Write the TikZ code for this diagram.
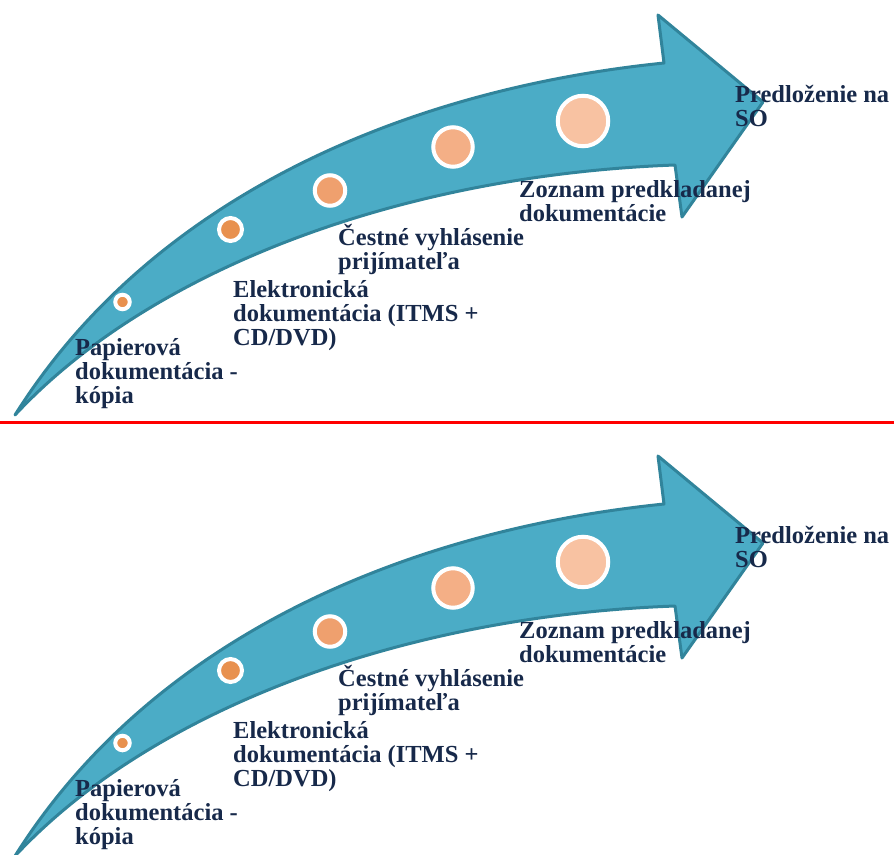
\documentclass[tikz,border=0pt]{standalone}
\usepackage{fontspec}
\setmainfont{Liberation Serif}
\usetikzlibrary{positioning}
\definecolor{aqua}{HTML}{4BACC6}
\definecolor{aquadark}{HTML}{31849B}
\definecolor{navy}{HTML}{17294A}
\definecolor{beadA}{HTML}{E8914F}
\definecolor{beadB}{HTML}{E8914F}
\definecolor{beadC}{HTML}{EFA06E}
\definecolor{beadD}{HTML}{F4AF86}
\definecolor{beadE}{HTML}{F8C2A2}

\begin{document}
\begin{tikzpicture}[x=1pt,y=-1pt,
arrowbody/.style={fill=aqua, draw=aquadark, line width=3pt, line join=round},
bead/.style={circle, draw=white, line width=4pt, inner sep=0pt},
stepname/.style={font=\bfseries\fontsize{24.5}{24}\selectfont, text=navy, align=left, anchor=base west, inner sep=0pt}]

   % page size of the reference
   \useasboundingbox (0,0) rectangle (894,854);

   % the same slide twice, one below the other
   % (text nodes sit on the baseline of their last line)
   \foreach \dy/\p in {0/a,441/b} {
   \begin{scope}[shift={(0,\dy)}]
    \draw[arrowbody] (15,415) .. controls (150,200) and (400,90) .. (664,63)
        -- (658,15) -- (763,102) -- (682,217) -- (675,165)
        .. controls (400,175) and (150,270) .. (15,415) -- cycle;

    \node[bead, fill=beadA, minimum size=14.5] (paperdot\p) at (122.5,302) {};
    \node[bead, fill=beadB, minimum size=23] (itmsdot\p) at (230.5,229.5) {};
    \node[bead, fill=beadC, minimum size=30.5] (honordot\p) at (330,190.5) {};
    \node[bead, fill=beadD, minimum size=39.5] (listdot\p) at (453,147) {};
    \node[bead, fill=beadE, minimum size=50.5] (submitdot\p) at (583,121) {};

    \node[stepname] (paper\p) at (75,403) {Papierová\\dokumentácia -\\kópia};
    \node[stepname] (itms\p) at (233,345) {Elektronická\\dokumentácia (ITMS +\\CD/DVD)};
    \node[stepname] (honor\p) at (338,269) {Čestné vyhlásenie\\prijímateľa};
    \node[stepname] (list\p) at (519,221) {Zoznam predkladanej\\dokumentácie};
    \node[stepname] (submit\p) at (735,126) {Predloženie na\\SO};
   \end{scope}
   }

   \coordinate (sepL) at (0,422.5);
   \coordinate (sepR) at (894,422.5);
   \draw[red, line width=2.5pt] (sepL) -- (sepR);

\end{tikzpicture}
\end{document}
